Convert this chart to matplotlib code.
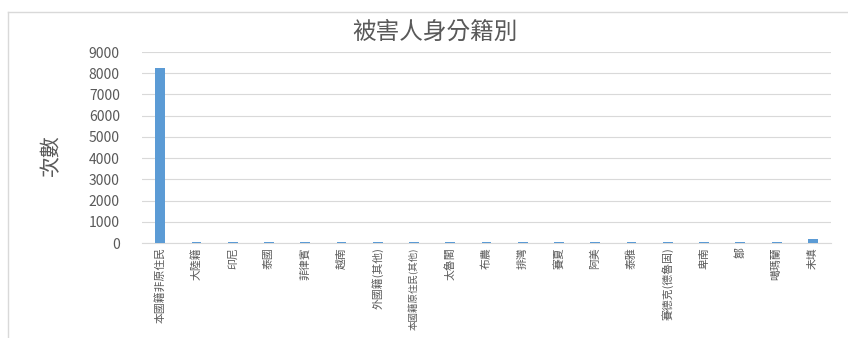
import matplotlib
matplotlib.use("Agg")
import matplotlib.pyplot as plt
from matplotlib.lines import Line2D

plt.rcParams['font.family'] = ['Noto Sans CJK TC', 'DejaVu Sans']

# data
categories = ['本國籍非原住民', '大陸籍', '印尼', '泰國', '菲律賓', '越南',
              '外國籍(其他)', '本國籍原住民(其他)', '太魯閣', '布農', '排灣',
              '賽夏', '阿美', '泰雅', '賽德克(德魯固)', '卑南', '鄒',
              '噶瑪蘭', '未填']
counts = [8250, 45, 40, 40, 35, 40, 45, 50, 45, 50, 55,
          35, 45, 45, 40, 35, 30, 35, 210]

fig = plt.figure(figsize=(8.48, 3.38), dpi=100)
ax = fig.add_axes([0.1675, 0.281, 0.8125, 0.565])

x = range(len(categories))
ax.bar(x, counts, width=0.27, color='#5b9bd5', zorder=3)

ax.set_xlim(-0.5, len(categories) - 0.5)
ax.set_ylim(0, 9000)
ax.set_yticks(range(0, 9001, 1000))
ax.set_xticks(list(x))
ax.set_xticklabels(categories, rotation=90, fontsize=7.8, color='#595959')
ax.get_xticklabels()[7].set_fontsize(6.8)
ax.tick_params(axis='y', labelsize=10, colors='#595959', length=0, pad=16)
ax.tick_params(axis='x', length=0, pad=3)
ax.grid(axis='y', color='#d9d9d9', linewidth=0.8, zorder=0)
for s in ['top', 'right', 'left']:
    ax.spines[s].set_visible(False)
ax.spines['bottom'].set_color('#d9d9d9')

fig.text(0.513, 0.905, '被害人身分籍別', ha='center', va='center',
         fontsize=17, color='#595959')
fig.text(0.06, 0.54, '次數', ha='center', va='center', rotation=90,
         fontsize=15, color='#595959')

# chart frame
fig.add_artist(Line2D([8 / 848, 8 / 848], [0, 1 - 12 / 338],
                      transform=fig.transFigure, color='#d9d9d9', lw=1))
fig.add_artist(Line2D([8 / 848, 1], [1 - 12 / 338, 1 - 12 / 338],
                      transform=fig.transFigure, color='#d9d9d9', lw=1))

fig.savefig('out.png', dpi=100)
